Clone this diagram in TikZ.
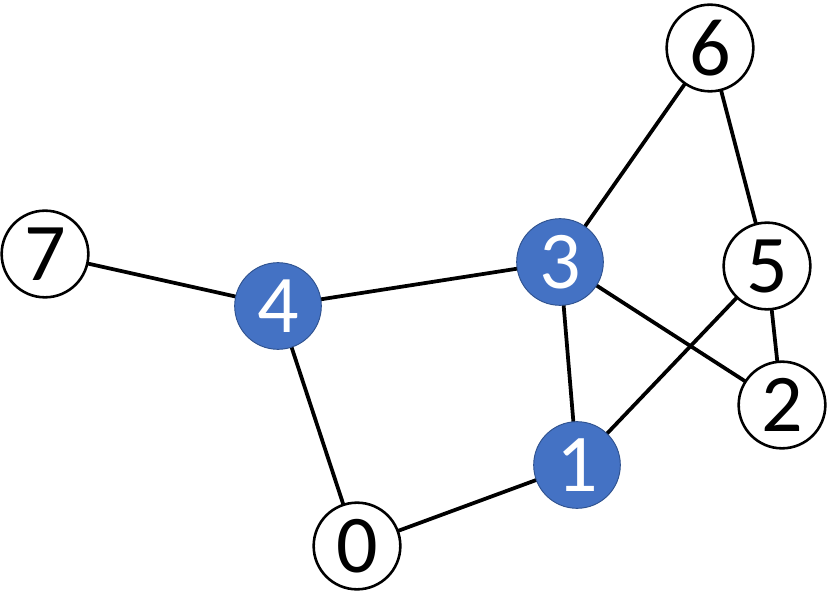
\documentclass[tikz,border=0pt]{standalone}
\usepackage{fontspec}
\setmainfont{Carlito}
\usetikzlibrary{backgrounds}
\definecolor{nodeblue}{HTML}{4472C4}
\definecolor{rimblue}{HTML}{2F528F}
\begin{document}
\begin{tikzpicture}[x=0.03cm,y=-0.03cm,
    vertex/.style={circle,draw=black,line width=2.2pt,fill=white,minimum size=2.6cm,inner sep=0pt,font=\fontsize{70}{70}\selectfont},
    marked/.style={vertex,fill=nodeblue,draw=rimblue,line width=0.8pt,text=white},
    link/.style={line width=3.2pt}]
  \useasboundingbox (0,0) rectangle (830,593);
  \node[vertex] (v6) at (710,48) {6};
  \node[vertex] (v7) at (45,254) {7};
  \node[marked] (v4) at (278,306) {4};
  \node[marked] (v3) at (560,262) {3};
  \node[vertex] (v5) at (767,266) {5};
  \node[vertex] (v2) at (782,405) {2};
  \node[marked] (v1) at (577,465) {1};
  \node[vertex] (v0) at (357,546) {0};
  \begin{scope}[on background layer]
    \draw[link] (v7.center) -- (v4.center);
    \draw[link] (v4.center) -- (v3.center);
    \draw[link] (v4.center) -- (v0.center);
    \draw[link] (v0.center) -- (v1.center);
    \draw[link] (v1.center) -- (v3.center);
    \draw[link] (v1.center) -- (v5.center);
    \draw[link] (v3.center) -- (v6.center);
    \draw[link] (v3.center) -- (v2.center);
    \draw[link] (v6.center) -- (v5.center);
    \draw[link] (v5.center) -- (v2.center);
  \end{scope}
\end{tikzpicture}
\end{document}
